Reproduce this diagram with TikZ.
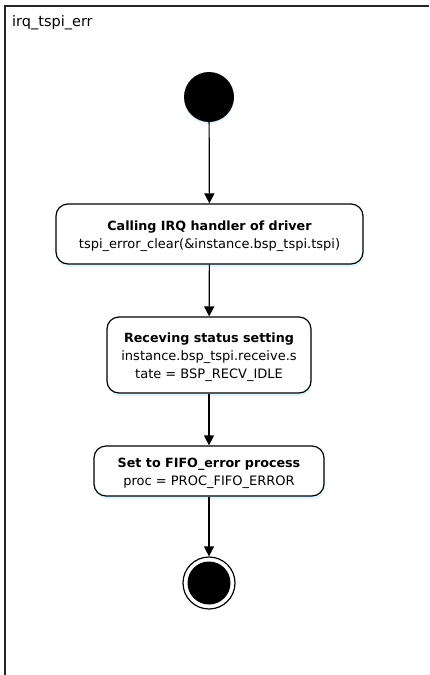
\documentclass[tikz,border=0pt]{standalone}
\usepackage{fontspec}
\setmainfont{DejaVu Sans}
\usetikzlibrary{arrows.meta,shadows}
\newcommand{\hdr}[1]{{\fontsize{12.7}{18}\selectfont\bfseries #1}}
\begin{document}
\begin{tikzpicture}[x=1pt,y=-1pt,
  actbox/.style={draw=black,line width=1.2pt,rounded corners=12pt,fill=white,inner sep=0pt,
    drop shadow={shadow xshift=1pt,shadow yshift=-3pt,fill=blue!30!cyan!25,opacity=0.5}},
  boxtext/.style={align=center,font=\fontsize{13}{18}\selectfont,inner sep=0pt},
  flow/.style={draw=black,line width=1.2pt,-{Triangle[length=10pt,width=10pt]}},
  frameline/.style={draw=black!85,line width=2pt}
]
\useasboundingbox (0,0) rectangle (429,675);
\draw[frameline] (429,6) -- (5,6) -- (5,675);
\node[anchor=base west,font=\fontsize{14.5}{16}\selectfont,inner sep=0pt] (title) at (12,26) {irq\_tspi\_err};

\node[circle,fill=black,minimum size=50pt,inner sep=0pt,
  drop shadow={shadow xshift=0pt,shadow yshift=-2pt,fill=blue!30!cyan!25,opacity=0.5}] (start) at (209,97) {};

\node[actbox,minimum width=307pt,minimum height=60pt] (b1) at (209.5,234) {};
\node[boxtext] (b1t) at ([yshift=-2.5pt]b1.center)
  {\hdr{Calling IRQ handler of driver}\\tspi\_error\_clear(\&instance.bsp\_tspi.tspi)};
\node[actbox,minimum width=204pt,minimum height=76pt] (b2) at (209,355) {};
\node[boxtext] (b2t) at ([yshift=-2.5pt]b2.center)
  {\hdr{Receving status setting}\\instance.bsp\_tspi.receive.s\\tate = BSP\_RECV\_IDLE};
\node[actbox,minimum width=230pt,minimum height=50pt] (b3) at (209,471) {};
\node[boxtext] (b3t) at ([yshift=-2.5pt]b3.center)
  {\hdr{Set to FIFO\_error process}\\proc = PROC\_FIFO\_ERROR};

\node[circle,draw=black,line width=1.2pt,fill=white,minimum size=52pt,inner sep=0pt] (end) at (209,583) {};
\node[circle,fill=black,minimum size=43pt,inner sep=0pt] (endin) at (end.center) {};

\draw[flow] (start) -- (b1);
\draw[flow] (b1) -- (b2);
\draw[flow] (b2) -- (b3);
\draw[flow] (b3) -- (end);
\end{tikzpicture}
\end{document}
